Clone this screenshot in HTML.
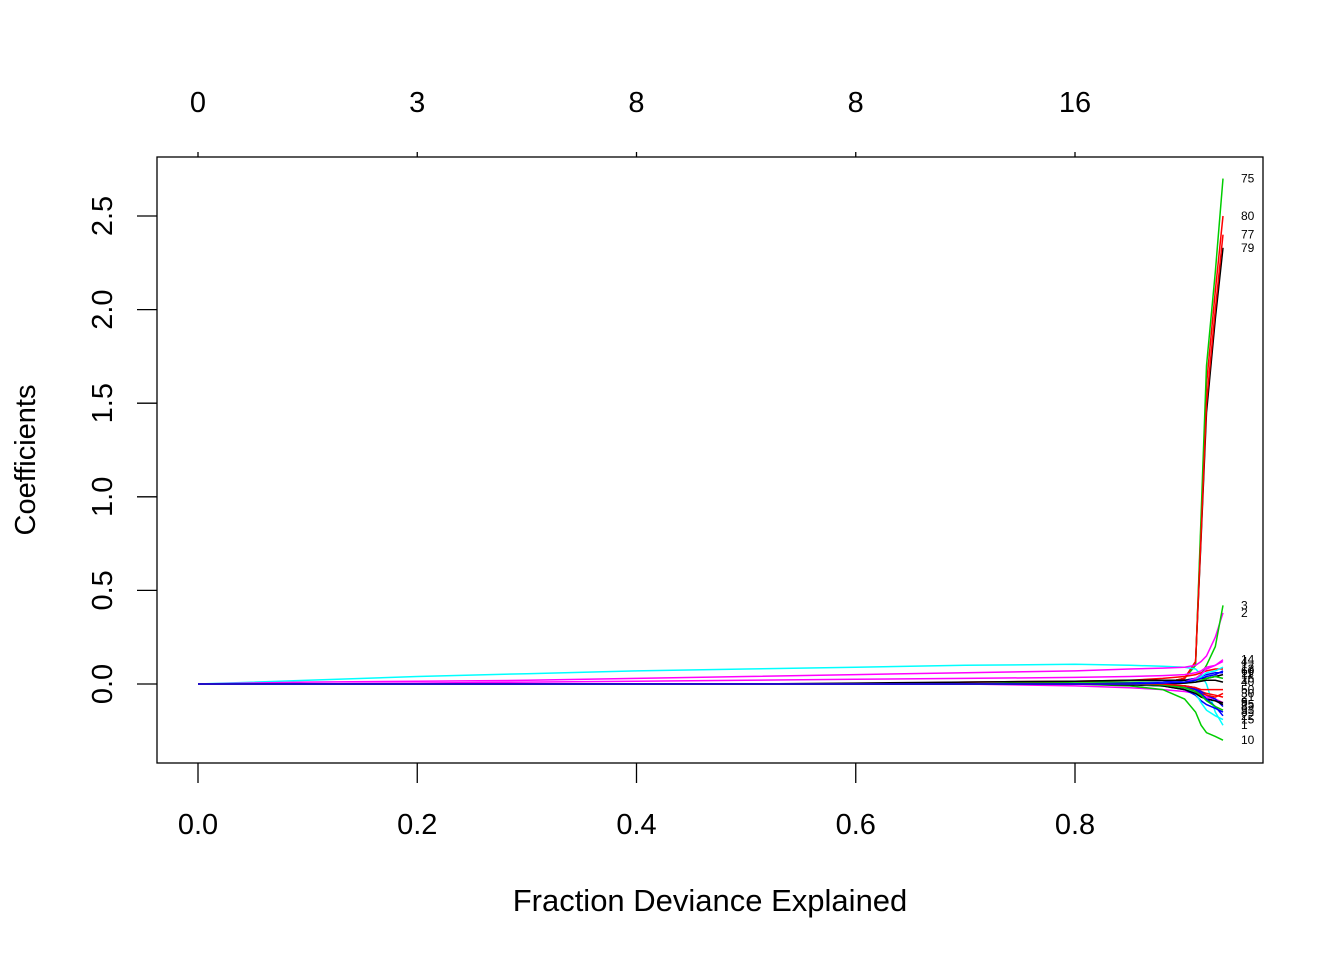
<!DOCTYPE html>
<html><head><meta charset="utf-8"><style>
body{margin:0;background:#fff}
svg{font-family:"Liberation Sans",Arial,sans-serif}
</style></head><body>
<svg id="chart" width="1344" height="960" xmlns="http://www.w3.org/2000/svg"></svg>
<script>
const xTicks=[0,0.2,0.4,0.6,0.8];
const xTickLabels=["0.0","0.2","0.4","0.6","0.8"];
const topTickLabels=["0","3","8","8","16"];
const yTicks=[0,0.5,1,1.5,2,2.5];
const yTickLabels=["0.0","0.5","1.0","1.5","2.0","2.5"];
const devFrac=[0,0.1,0.2,0.3,0.4,0.5,0.6,0.7,0.8,0.85,0.88,0.9,0.91,0.915,0.92,0.928,0.935];
const s75=[0,0,0,0,0,0,0,0,0,0,0.005,0.03,0.1,0.9,1.7,2.2,2.7];
const s80=[0,0,0,0,0,0,0,0,0,0,0.005,0.03,0.12,0.85,1.6,2.1,2.5];
const s77=[0,0,0,0,0,0,0,0,0,0,0.005,0.03,0.12,0.8,1.5,2.0,2.4];
const s79=[0,0,0,0,0,0,0,0,0,0,0.005,0.03,0.12,0.78,1.45,1.95,2.33];
const s1=[0,0.02,0.04,0.055,0.07,0.08,0.09,0.1,0.105,0.1,0.095,0.09,0.08,0.05,0,-0.15,-0.22];
const s2=[0,0.01,0.015,0.02,0.03,0.04,0.05,0.06,0.07,0.08,0.085,0.09,0.1,0.12,0.15,0.25,0.38];
const s3=[0,0,0,0,0,0,0,0,0.01,0.01,0.01,0.02,0.03,0.05,0.1,0.2,0.42];
const s4=[0,0,0.005,0.01,0.015,0.02,0.025,0.03,0.035,0.04,0.045,0.05,0.06,0.07,0.09,0.1,0.12];
const s5=[0,0,0,0,0,0,0,0,-0.01,-0.02,-0.03,-0.04,-0.05,-0.06,-0.07,-0.08,-0.1];
const s6=[0,0,0,0,0,0,0,0,0,-0.01,-0.03,-0.08,-0.15,-0.22,-0.26,-0.28,-0.3];
const s7=[0,0,0,0,0,0,0,0,0,0,-0.01,-0.03,-0.06,-0.09,-0.11,-0.13,-0.15];
const s8=[0,0,0,0,0,0,0,0.01,0.015,0.02,0.03,0.04,0.05,0.06,0.07,0.08,0.08];
const s9=[0,0,0,0,0,0,0,0,0,-0.005,-0.01,-0.02,-0.04,-0.06,-0.08,-0.09,-0.1];
const s10=[0,0,0,0,0,0,0,0,0,0,-0.01,-0.02,-0.05,-0.1,-0.14,-0.17,-0.19];
const s11=[0,0,0,0,0,0,0,0,0,0.005,0.01,0.02,0.03,0.04,0.05,0.06,0.06];
const s12=[0,0,0,0,0,0,0.005,0.01,0.015,0.02,0.02,0.02,0.02,0.03,0.03,0.04,0.05];
const s13=[0,0,0,0,0,0,0,0,0,0,-0.005,-0.01,-0.02,-0.04,-0.05,-0.06,-0.07];
const s14=[0,0,0,0,0,0,0,0,0,0,0.005,0.01,0.03,0.05,0.08,0.1,0.13];
const s15=[0,0,0,0,0,0,0,0,0,0,0,-0.01,-0.02,-0.04,-0.06,-0.08,-0.12];
const s16=[0,0,0,0,0,0,0,0,0,0,0,0.005,0.01,0.02,0.03,0.04,0.03];
const s17=[0,0,0,0,0,0,0,0,0,0,-0.01,-0.03,-0.05,-0.07,-0.08,-0.09,-0.11];
const s18=[0,0,0,0,0,0,0,0,0,0,-0.005,-0.02,-0.03,-0.05,-0.06,-0.07,-0.05];
const s19=[0,0,0,0,0,0,0,0,0,0,0.005,0.01,0.02,0.04,0.06,0.07,0.09];
const s20=[0,0,0,0,0,0,0,0,0,0,-0.005,-0.01,-0.03,-0.05,-0.08,-0.12,-0.17];
const s21=[0,0,0,0,0,0,0,0,0,0,0,0.005,0.01,0.015,0.02,0.02,0.01];
const s22=[0,0,0,0,0,0,0,0,0,0,-0.005,-0.02,-0.04,-0.06,-0.09,-0.12,-0.14];
const s23=[0,0,0,0,0,0,0,0,0,0,0,-0.01,-0.02,-0.03,-0.03,-0.03,-0.03];
const s24=[0,0,0,0,0,0,0,0,0,0,0.005,0.01,0.02,0.03,0.04,0.05,0.07];
const seriesList=[s79,s80,s75,s77,s1,s2,s3,s4,s5,s6,s7,s8,s9,s10,s11,s12,s13,s14,s15,s16,s17,s18,s19,s20,s21,s22,s23,s24];
const seriesLabels=["79","80","75","77","1","2","3","4","5","10","8","13","9","15","11","12","21","14","82","16","25","30","17","22","40","33","50","60"];
const seriesColors=["black","red","#00cd00","red","cyan","magenta","#00cd00","magenta","magenta","#00cd00","blue","red","black","cyan","blue","black","red","magenta","blue","#00cd00","black","red","cyan","blue","black","#00cd00","red","blue"];

const NS="http://www.w3.org/2000/svg";
const svg=document.getElementById('chart');
const X0=157,X1=1263,Y0=157,Y1=763;
const xs=v=>198+v*(1075-198)/0.8;
const ys=v=>684-v*(684-216)/2.5;
function mk(t,a,parent){const e=document.createElementNS(NS,t);for(const k in a)e.setAttribute(k,a[k]);(parent||svg).appendChild(e);return e;}

const box=mk('rect',{x:X0,y:Y0,width:X1-X0,height:Y1-Y0,fill:'none',stroke:'black','stroke-width':1.3});



const lines=mk('g',{});


seriesList.forEach((s,i)=>{
  const d=s.map((v,j)=>(j?'L':'M')+xs(devFrac[j]).toFixed(1)+','+ys(v).toFixed(1)).join('');
  const p=mk('path',{d:d,fill:'none',stroke:seriesColors[i],'stroke-width':1.5},lines);
  
  
  const t=mk('text',{x:1241,y:ys(s[s.length-1])+4,'font-size':12},lines);
  t.textContent=seriesLabels[i];
  
  
});

xTicks.forEach((v,i)=>{
  const x=xs(v);
  const l=mk('line',{x1:x,x2:x,y1:Y1,y2:Y1+20,stroke:'black','stroke-width':1.3});
  
  
  const t=mk('text',{x:x,y:834,'font-size':29,'text-anchor':'middle'});
  t.textContent=xTickLabels[i];
  
  
  const l2=mk('line',{x1:x,x2:x,y1:Y0,y2:Y0-5,stroke:'black','stroke-width':1.3});
  
  
  const t2=mk('text',{x:x,y:112,'font-size':29,'text-anchor':'middle'});
  t2.textContent=topTickLabels[i];
  
  
});
yTicks.forEach((v,i)=>{
  const y=ys(v);
  const l=mk('line',{x1:X0,x2:X0-20,y1:y,y2:y,stroke:'black','stroke-width':1.3});
  
  
  const t=mk('text',{x:0,y:0,'font-size':29,'text-anchor':'middle',transform:`translate(112,${y}) rotate(-90)`});
  t.textContent=yTickLabels[i];
  
  
});
const xt=mk('text',{x:710,y:911,'font-size':31,'text-anchor':'middle'});
xt.textContent='Fraction Deviance Explained';


const yt=mk('text',{x:0,y:0,'font-size':29,'text-anchor':'middle',transform:'translate(35,460) rotate(-90)'});
yt.textContent='Coefficients';


</script>
</body></html>
